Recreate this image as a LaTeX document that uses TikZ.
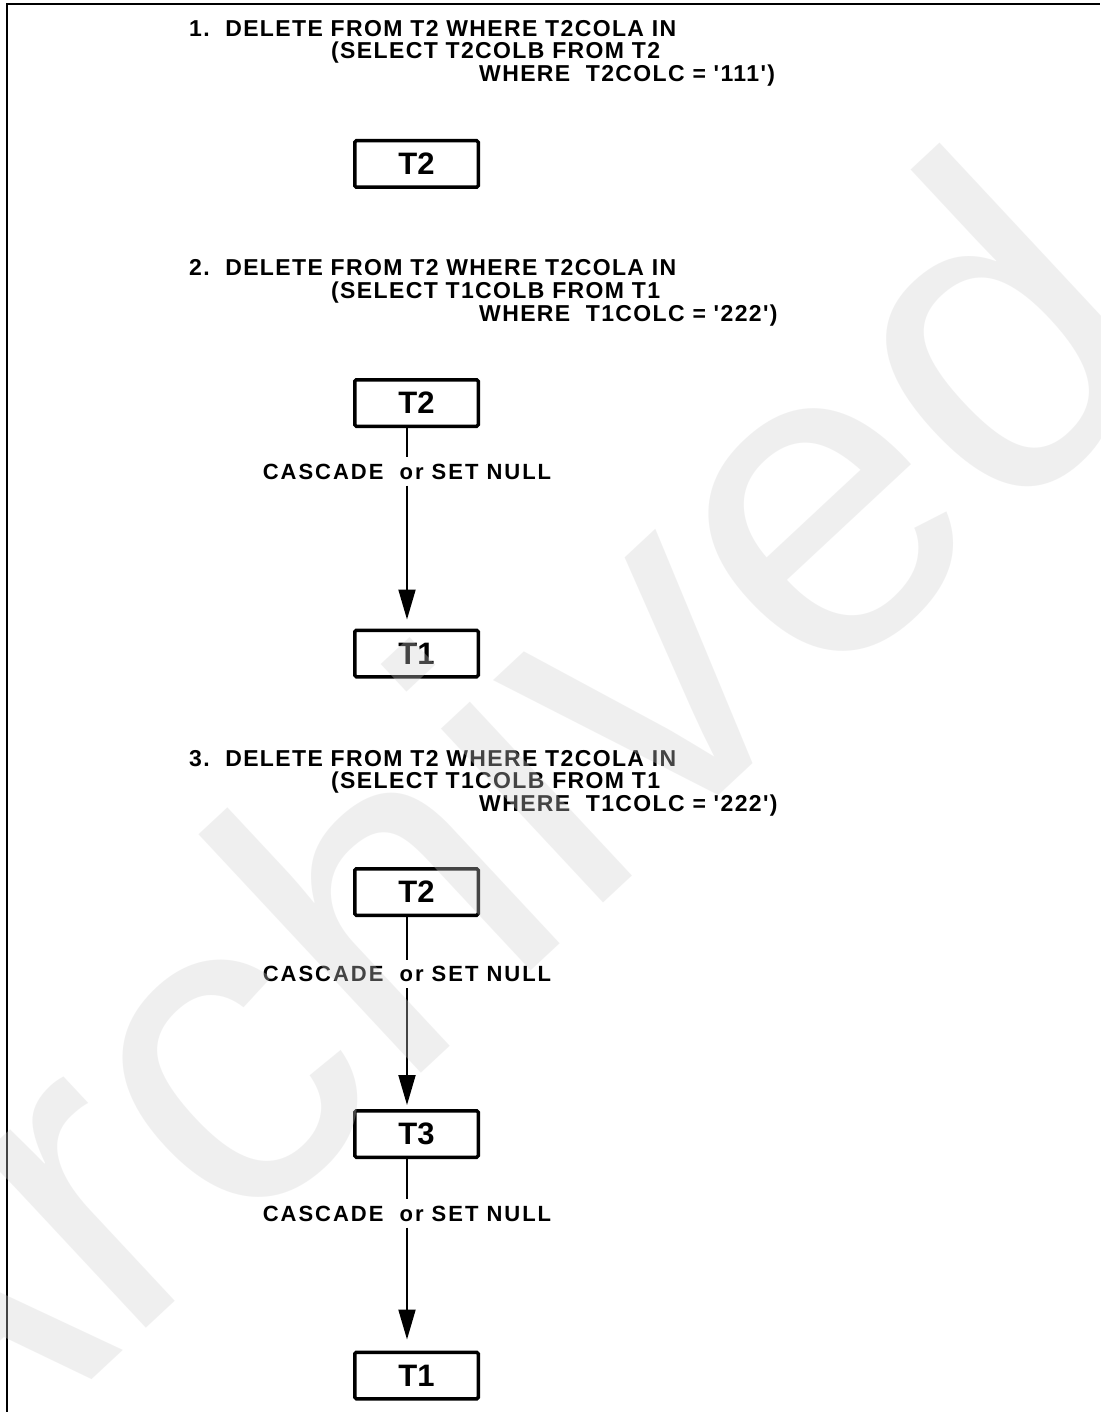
\documentclass[tikz,border=0pt]{standalone}
\usepackage{fontspec}
\usetikzlibrary{arrows.meta}
\newfontfamily\sqlfam{Liberation Sans}[LetterSpace=6,Ligatures=TeXOff]
\newfontfamily\relfam{Liberation Sans}[LetterSpace=9,Ligatures=TeXOff]
\newfontfamily\boxfam{Liberation Sans}[Ligatures=TeXOff]
\newfontfamily\wmfam{Liberation Sans}
\newcommand\sqlfont{\sqlfam\bfseries\fontsize{23}{23}\selectfont}
\newcommand\relfont{\relfam\bfseries\fontsize{22}{22}\selectfont}
\newcommand\boxfont{\boxfam\bfseries\fontsize{31}{31}\selectfont}
\newcommand\wmfont{\wmfam\fontsize{450}{450}\selectfont}
\definecolor{wmgray}{gray}{0.82}
\tikzset{
  tbl/.style={draw, line width=3.5pt, rounded corners=1.5pt, minimum width=123.5pt,
    minimum height=46.5pt, inner sep=0pt, font=\boxfont},
  sql/.style={anchor=base west, inner sep=0pt, font=\sqlfont},
  rel/.style={inner sep=0pt, minimum height=28pt, font=\relfont},
  conn/.style={line width=2pt},
  arr/.style={conn, -{Triangle[length=30pt,width=17pt]}},
  frame/.style={line width=2pt},
}
\begin{document}
\begin{tikzpicture}[x=1pt,y=-1pt]
\useasboundingbox (0,0) rectangle (1100,1412);
\fill[white] (0,0) rectangle (1100,1412);
\draw[frame] (7,1412) -- (7,4) -- (1100,4);
% block 1
\node[sql] (q1a) at (189,36.5) {1.~~DELETE FROM T2 WHERE T2COLA IN};
\node[sql] (q1b) at (331,59) {(SELECT T2COLB FROM T2};
\node[sql] (q1c) at (479,81.5) {WHERE~~T2COLC = '111')};
\node[tbl] (b1) at (416.5,164) {T2};
% block 2
\node[sql] (q2a) at (189,276) {2.~~DELETE FROM T2 WHERE T2COLA IN};
\node[sql] (q2b) at (331,298.5) {(SELECT T1COLB FROM T1};
\node[sql] (q2c) at (479,321) {WHERE~~T1COLC = '222')};
\node[tbl] (b2) at (416.5,403) {T2};
\node[rel] (r2) at (407,471.5) {CASCADE~~or SET NULL};
\node[tbl] (c2) at (416.5,653.5) {T1};
\draw[conn] (b2.south -| r2) -- (r2.north);
\draw[arr, shorten >=9pt] (r2.south) -- (c2.north -| r2);
% block 3
\node[sql] (q3a) at (189,766) {3.~~DELETE FROM T2 WHERE T2COLA IN};
\node[sql] (q3b) at (331,788.5) {(SELECT T1COLB FROM T1};
\node[sql] (q3c) at (479,811) {WHERE~~T1COLC = '222')};
\node[tbl] (b3) at (416.5,892) {T2};
\node[rel] (r3a) at (407,974) {CASCADE~~or SET NULL};
\node[tbl] (c3) at (416.5,1134) {T3};
\node[rel] (r3b) at (407,1213.5) {CASCADE~~or SET NULL};
\node[tbl] (d3) at (416.5,1375.5) {T1};
\draw[conn] (b3.south -| r3a) -- (r3a.north);
\draw[arr, shorten >=4pt] (r3a.south) -- (c3.north -| r3a);
\draw[conn] (c3.south -| r3b) -- (r3b.north);
\draw[arr, shorten >=11pt] (r3b.south) -- (d3.north -| r3b);
% watermark
\node[rotate=43, font=\wmfont, text=wmgray, opacity=0.33, inner sep=0pt] (wm) at (435,840) {Archived};
\end{tikzpicture}
\end{document}
